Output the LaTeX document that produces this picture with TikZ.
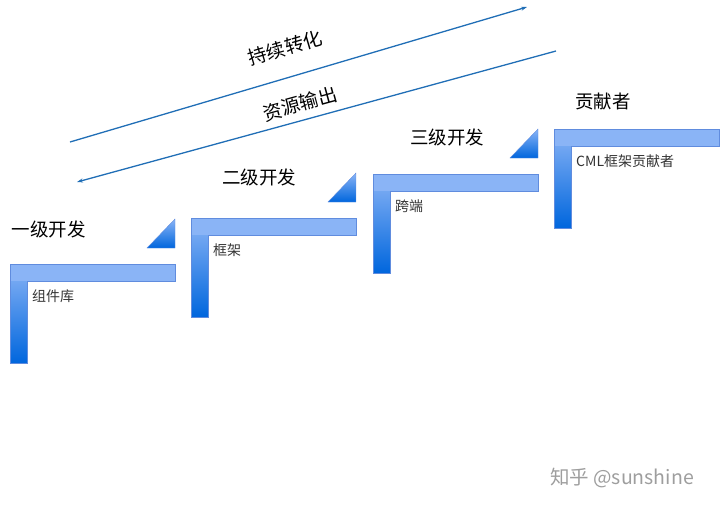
\documentclass[tikz,border=0pt]{standalone}
\usepackage{fontspec}
\newfontfamily\cjk{Noto Sans CJK SC}
\usetikzlibrary{arrows.meta,positioning,calc}
\definecolor{barlight}{RGB}{138,180,246}
\definecolor{bardark}{RGB}{0,102,221}
\definecolor{baredge}{RGB}{96,140,222}
\definecolor{flowblue}{RGB}{32,110,182}
\tikzset{%
  % shapes
  tread/.style={fill=barlight},
  post/.style={top color=barlight, bottom color=bardark},
  wedge/.style={top color=barlight, bottom color=bardark, draw=baredge, line width=0.4pt},
  outline/.style={draw=baredge, line width=0.6pt},
  % texts
  title/.style={font=\cjk\fontsize{18.5}{20}\selectfont},
  sub/.style={font=\cjk\fontsize{14}{16}\selectfont, text=black!80, anchor=west, inner sep=0pt},
  flowlabel/.style={font=\cjk\fontsize{19}{21}\selectfont, inner sep=0pt},
  watermark/.style={font=\cjk\fontsize{19.5}{21}\selectfont, text=black!38},
  % edge styles
  flow/.style={-{Stealth[length=6pt,width=4pt]}, draw=flowblue, line width=1.3pt},
}
\newcommand{\stair}[3]{%
  % #1 = node name
  % #2 = top-left corner of the tread
  % #3 = caption
  \coordinate (#1) at (#2);
  \shade[post] (#1) rectangle ++(17,99);
  \fill[tread] (#1) rectangle ++(165,17);
  \draw[outline] (#1) -- ++(165,0) -- ++(0,17) -- ++(-148,0) -- ++(0,82) -- ++(-17,0) -- cycle;
  \node[sub] (#1-sub) at ($(#1)+(22,32)$) {#3};
}
\newcommand{\riser}[1]{%
  % #1 = stair the wedge sits on
  \shade[wedge] ($(#1)+(137,-16)$) -- ++(28,0) -- ++(0,-29) -- cycle;
}

\begin{document}
\begin{tikzpicture}[x=1pt, y=-1pt]
  \useasboundingbox (0,0) rectangle (720,507);

  \stair{s1}{10,264}{组件库}
  \stair{s2}{191,218}{框架}
  \stair{s3}{373,174}{跨端}
  \stair{s4}{554,129}{CML框架贡献者}
  \riser{s1}
  \riser{s2}
  \riser{s3}

  \node[title] (lvl1) at (49,229) {一级开发};
  \node[title] (lvl2) at (259,177) {二级开发};
  \node[title] (lvl3) at (447,137) {三级开发};
  \node[title] (lvl4) at (603,102) {贡献者};

  \coordinate (up-start) at (70,142);
  \coordinate (up-end) at (527,7);
  \coordinate (down-start) at (556,51);
  \coordinate (down-end) at (77,182);
  \draw[flow] (up-start) -- (up-end);
  \draw[flow] (down-start) -- (down-end);

  \node[flowlabel, rotate=16.5] (convert) at (285,48) {持续转化};
  \node[flowlabel, rotate=15.3] (output) at (300,104) {资源输出};

  \node[watermark] (credit) at (622,478) {知乎 @sunshine};
\end{tikzpicture}
\end{document}
